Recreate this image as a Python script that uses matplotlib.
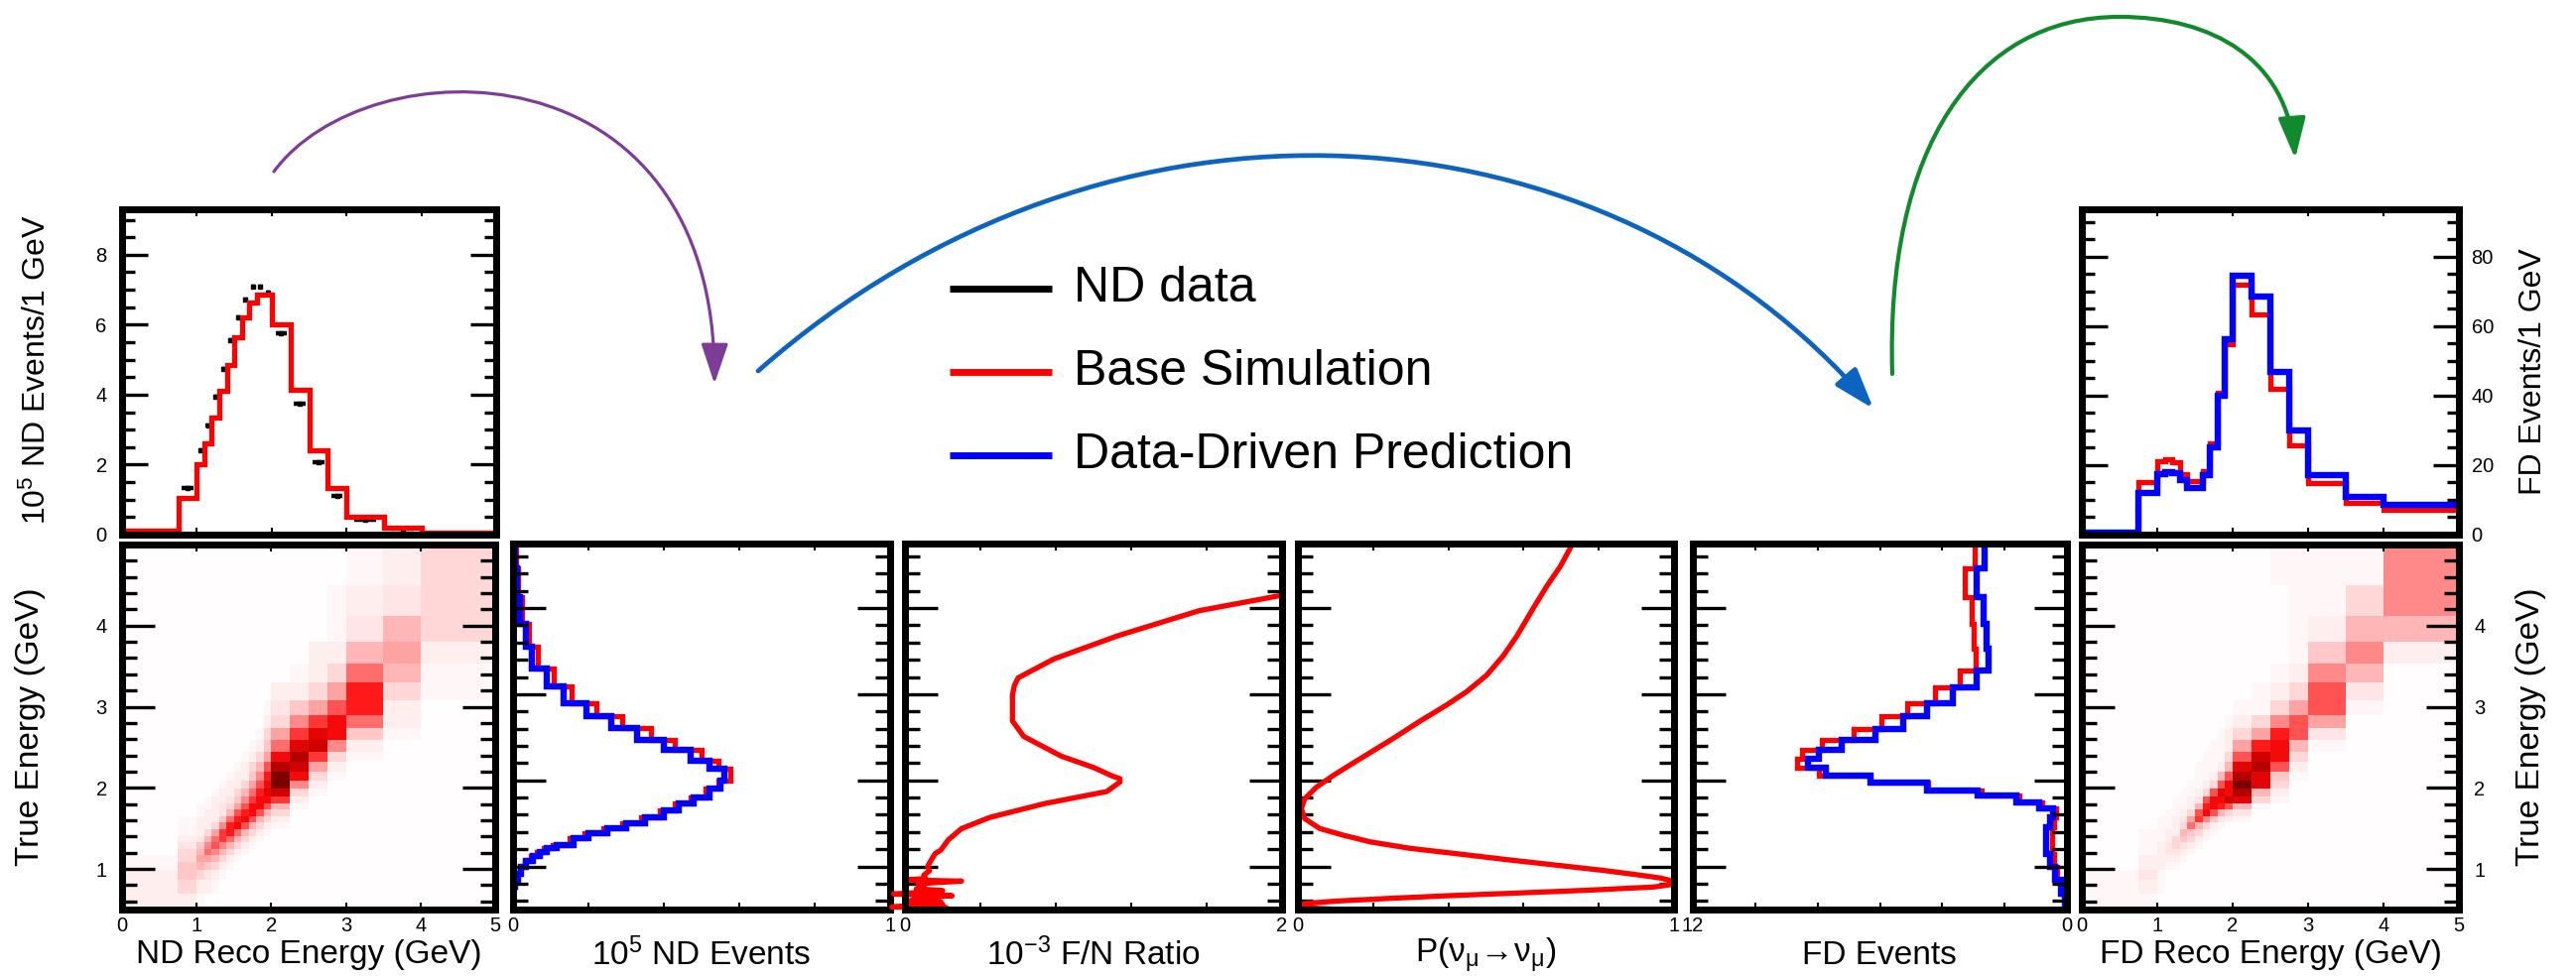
import numpy as np
import matplotlib
matplotlib.use('Agg')
import matplotlib.pyplot as plt
from matplotlib.colors import LinearSegmentedColormap
from matplotlib.patches import FancyArrowPatch
from matplotlib.path import Path
from matplotlib.ticker import MultipleLocator, FixedLocator

TICK_FS = 14.5
LABEL_FS = 24

plt.rcParams['font.family'] = ['Liberation Sans', 'DejaVu Sans']
plt.rcParams['mathtext.fontset'] = 'custom'
plt.rcParams['mathtext.rm'] = 'Liberation Sans'
plt.rcParams['mathtext.it'] = 'Liberation Sans:italic'
plt.rcParams['mathtext.bf'] = 'Liberation Sans:bold'
plt.rcParams['xtick.labelsize'] = TICK_FS
plt.rcParams['ytick.labelsize'] = TICK_FS

# ========================= DATA ============================================

# reconstructed-energy binning (GeV)
RECO_EDGES = [0, 0.75, 1.0, 1.1, 1.2, 1.3, 1.4, 1.5, 1.6, 1.7, 1.8, 1.9, 2.0,
              2.25, 2.5, 2.75, 3.0, 3.5, 4.0, 5.0]

# ND spectra, 10^5 events / 1 GeV
ND_DATA = [0.02, 1.34, 2.42, 3.11, 3.93, 4.74, 5.56, 6.21, 6.72, 7.09, 7.10,
           6.92, 5.76, 3.75, 2.08, 1.10, 0.42, 0.17, 0.04]
ND_MC = [0.10, 1.04, 2.00, 2.60, 3.35, 4.10, 4.86, 5.65, 6.21, 6.64, 6.87,
         6.87, 6.00, 4.15, 2.41, 1.32, 0.52, 0.19, 0.05]

# FD spectra, events / 1 GeV
FD_MC = [0.3, 15.2, 21.2, 21.6, 20.8, 17.4, 15.4, 15.5, 18.4, 26.4, 40.8,
         54.8, 72.1, 63.3, 41.9, 25.7, 14.8, 9.0, 7.1]
FD_PRED = [0.5, 11.9, 17.5, 18.0, 17.8, 15.7, 13.3, 13.5, 17.1, 25.2, 40.0,
           56.2, 74.5, 68.6, 46.9, 30.0, 17.1, 10.8, 8.6]

# true-energy spectra of the middle panels
ND_TRUE_EDGES = [0.5, 0.77, 0.85, 0.92, 1.0, 1.06, 1.12, 1.17, 1.21, 1.25,
                 1.326, 1.383, 1.44, 1.498, 1.575, 1.651, 1.728, 1.805, 1.90,
                 1.996, 2.13, 2.226, 2.36, 2.475, 2.609, 2.743, 2.897, 3.088,
                 3.30, 3.548, 3.816, 4.123, 4.467, 4.75]
ND_TRUE_PRED = [0.001, 0.005, 0.013, 0.022, 0.035, 0.053, 0.071, 0.089, 0.115,
                0.16, 0.20, 0.25, 0.30, 0.35, 0.40, 0.44, 0.48, 0.52, 0.55,
                0.56, 0.52, 0.47, 0.40, 0.33, 0.26, 0.195, 0.133, 0.089,
                0.051, 0.033, 0.018, 0.010, 0.004]
ND_TRUE_MC = [0.001, 0.004, 0.011, 0.019, 0.031, 0.047, 0.064, 0.081, 0.106,
              0.15, 0.19, 0.24, 0.29, 0.34, 0.39, 0.43, 0.47, 0.51, 0.545,
              0.575, 0.545, 0.50, 0.43, 0.365, 0.29, 0.222, 0.155, 0.107,
              0.065, 0.042, 0.024, 0.014, 0.008]

FD_TRUE_EDGES = [0.5, 0.69, 0.85, 1.0, 1.15, 1.31, 1.46, 1.575, 1.67, 1.747,
                 1.824, 1.881, 1.977, 2.054, 2.15, 2.245, 2.352, 2.475, 2.60,
                 2.743, 2.897, 3.077, 3.28, 3.529, 3.816, 4.123, 4.467, 4.75]
FD_TRUE_PRED = [0.05, 0.20, 0.38, 0.55, 0.66, 0.66, 0.55, 0.46, 0.88, 1.63,
                2.85, 4.50, 6.31, 7.74, 8.30, 7.96, 7.21, 6.15, 5.24, 4.50,
                3.65, 2.90, 2.51, 2.59, 2.66, 2.90, 2.64]
FD_TRUE_MC = [0.04, 0.18, 0.33, 0.42, 0.48, 0.48, 0.42, 0.35, 0.78, 1.52,
              2.74, 4.45, 6.31, 7.96, 8.65, 8.49, 7.85, 6.84, 5.94, 5.14,
              4.23, 3.44, 2.94, 2.98, 3.04, 3.28, 2.96]

# far/near ratio (10^-3) vs true energy
FN_ENERGY = [0.50, 0.51, 0.52, 0.53, 0.545, 0.56, 0.575, 0.59, 0.605, 0.62,
             0.64, 0.66, 0.68, 0.70, 0.72, 0.74, 0.77, 0.80, 0.83, 0.845,
             0.86, 0.90, 0.95, 1.00, 1.06, 1.15, 1.19, 1.31, 1.44, 1.57,
             1.73, 1.87, 1.98, 2.02, 2.05, 2.15, 2.28, 2.51, 2.69, 2.99,
             3.10, 3.19, 3.41, 3.68, 3.97, 4.15]
FN_RATIO = [0.00, 0.05, 0.22, -0.07, 0.03, 0.20, 0.02, 0.19, 0.03, 0.12,
            0.05, 0.25, -0.06, 0.08, 0.20, 0.06, 0.10, 0.07, 0.30, 0.00,
            0.11, 0.10, 0.13, 0.12, 0.135, 0.16, 0.19, 0.23, 0.30, 0.45,
            0.74, 1.07, 1.14, 1.14, 1.10, 1.00, 0.83, 0.63, 0.57, 0.57,
            0.58, 0.60, 0.79, 1.13, 1.56, 2.00]

# numu survival probability vs true energy
P_ENERGY = [4.736, 4.487, 4.257, 4.008, 3.682, 3.452, 3.222, 3.031, 2.877,
            2.686, 2.494, 2.322, 2.188, 2.054, 1.920, 1.786, 1.670, 1.556,
            1.441, 1.364, 1.287, 1.211, 1.153, 1.084, 1.019, 0.954, 0.904,
            0.866, 0.828, 0.789, 0.762, 0.724, 0.693, 0.663, 0.628, 0.598,
            0.571, 0.548, 0.521, 0.502, 0.490]
P_SURV = [0.729, 0.698, 0.662, 0.627, 0.583, 0.547, 0.502, 0.449, 0.396,
          0.324, 0.256, 0.192, 0.142, 0.093, 0.049, 0.018, 0.009, 0.018,
          0.058, 0.120, 0.191, 0.298, 0.413, 0.547, 0.680, 0.813, 0.902,
          0.964, 1.000, 0.991, 0.947, 0.769, 0.591, 0.413, 0.236, 0.102,
          0.022, 0.000, 0.022, 0.102, 0.209]

# true-energy binning of the migration matrices (GeV)
TRUE_EDGES = [0.5, 0.7, 0.87, 0.99, 1.09, 1.17, 1.25, 1.33, 1.41, 1.49, 1.57,
              1.65, 1.73, 1.81, 1.89, 1.99, 2.09, 2.2, 2.32, 2.44, 2.59, 2.74,
              2.9, 3.08, 3.3, 3.53, 3.8, 4.12, 4.5, 5.0]

# ND true vs reco occupancy (0-9 scale), rows from highest true energy down
ND_MATRIX = [
    [0, 0, 0, 0, 0, 0, 0, 0, 0, 0, 0, 0, 0, 0, 0, 0, 0.5, 1, 2],
    [0, 0, 0, 0, 0, 0, 0, 0, 0, 0, 0, 0, 0, 0, 0, 0.5, 1, 1.5, 2],
    [0, 0, 0, 0, 0, 0, 0, 0, 0, 0, 0, 0, 0, 0, 0, 0.5, 1.5, 3, 2],
    [0, 0, 0, 0, 0, 0, 0, 0, 0, 0, 0, 0, 0, 0, 1, 1, 3, 3.5, 1],
    [0, 0, 0, 0, 0, 0, 0, 0, 0, 0, 0, 0, 0, 0.5, 1, 2, 4.5, 3, 0.5],
    [0, 0, 0, 0, 0, 0, 0, 0, 0, 0, 0, 0, 1, 1, 2, 3.5, 6, 2, 0.5],
    [0, 0, 0, 0, 0, 0, 0, 0, 0, 0, 0, 0.5, 1.5, 2.5, 3.5, 5, 6, 1, 0],
    [0, 0, 0, 0, 0, 0, 0, 0, 0, 0, 0, 1, 2, 4, 5.5, 6.5, 4.5, 1, 0],
    [0, 0, 0, 0, 0, 0, 0, 0, 0, 0, 0.5, 2, 3.5, 5.5, 7, 6.5, 2.5, 0.5, 0],
    [0, 0, 0, 0, 0, 0, 0, 0, 0, 0.5, 1, 2.5, 4.5, 7, 7.5, 4, 1, 0, 0],
    [0, 0, 0, 0, 0, 0, 0, 0, 0.5, 1, 2, 3.5, 6.5, 8, 5.5, 2, 0.5, 0, 0],
    [0, 0, 0, 0, 0, 0, 0, 0.5, 1, 2, 3, 5, 8, 7.5, 3.5, 1, 0, 0, 0],
    [0, 0, 0, 0, 0, 0, 0.5, 1, 1, 2.5, 4, 6, 9, 6.5, 2, 0.5, 0, 0, 0],
    [0, 0, 0, 0, 0, 0.5, 1, 1, 2, 3.5, 5, 6.5, 9, 4, 1, 0, 0, 0, 0],
    [0, 0, 0, 0, 0.5, 1, 1, 2, 3, 4.5, 6, 7, 7.5, 2, 0.5, 0, 0, 0, 0],
    [0, 0, 0, 0.5, 1, 1, 1.5, 2.5, 4, 5.5, 6.5, 6.5, 5.5, 1, 0, 0, 0, 0, 0],
    [0, 0, 0.5, 0.5, 1, 1.5, 2, 3.5, 5, 6.5, 6.5, 5, 3, 0.5, 0, 0, 0, 0, 0],
    [0, 0, 0.5, 1, 1, 1.5, 3, 5, 6, 6.5, 5, 3, 2, 0, 0, 0, 0, 0, 0],
    [0, 0.5, 1, 1, 1, 2.5, 4.5, 6, 6.5, 5, 3, 2, 1, 0, 0, 0, 0, 0, 0],
    [0, 0.5, 1, 1, 2, 4, 6, 6.5, 5, 3, 2, 1, 0.5, 0, 0, 0, 0, 0, 0],
    [0, 0.5, 1, 2, 3.5, 5.5, 6, 4.5, 3, 2, 1, 0.5, 0, 0, 0, 0, 0, 0, 0],
    [0, 1, 1.5, 3, 4.5, 5.5, 4.5, 3, 2, 1, 0.5, 0, 0, 0, 0, 0, 0, 0, 0],
    [0, 1.5, 2.5, 4, 5, 4, 3, 2, 1, 0.5, 0, 0, 0, 0, 0, 0, 0, 0, 0],
    [0, 2, 3, 4.5, 4, 3, 2, 1, 0.5, 0, 0, 0, 0, 0, 0, 0, 0, 0, 0],
    [0.5, 2, 3.5, 3.5, 3, 2, 1, 0.5, 0, 0, 0, 0, 0, 0, 0, 0, 0, 0, 0],
    [0.5, 2.5, 3, 2.5, 2, 1, 0.5, 0, 0, 0, 0, 0, 0, 0, 0, 0, 0, 0, 0],
    [1, 2.5, 2, 1.5, 1, 0.5, 0, 0, 0, 0, 0, 0, 0, 0, 0, 0, 0, 0, 0],
    [1, 2, 1, 1, 0.5, 0, 0, 0, 0, 0, 0, 0, 0, 0, 0, 0, 0, 0, 0],
    [1, 1, 0.5, 0, 0, 0, 0, 0, 0, 0, 0, 0, 0, 0, 0, 0, 0, 0, 0],
]

# FD true vs reco occupancy (0-9 scale), rows from highest true energy down
FD_MATRIX = [
    [0, 0, 0, 0, 0, 0, 0, 0, 0, 0, 0, 0, 0, 0, 0.5, 0.5, 0.5, 0.5, 4],
    [0, 0, 0, 0, 0, 0, 0, 0, 0, 0, 0, 0, 0, 0, 0, 0.5, 0.5, 2, 4],
    [0, 0, 0, 0, 0, 0, 0, 0, 0, 0, 0, 0, 0, 0, 0, 0.5, 1, 3, 3],
    [0, 0, 0, 0, 0, 0, 0, 0, 0, 0, 0, 0, 0, 0, 0, 0.5, 2.5, 4, 1],
    [0, 0, 0, 0, 0, 0, 0, 0, 0, 0, 0, 0, 0, 0, 0.5, 1, 4, 3, 0],
    [0, 0, 0, 0, 0, 0, 0, 0, 0, 0, 0, 0, 0, 0.5, 1, 2, 5, 1.5, 0],
    [0, 0, 0, 0, 0, 0, 0, 0, 0, 0, 0, 0, 0.5, 0.5, 2, 3.5, 5, 0.5, 0],
    [0, 0, 0, 0, 0, 0, 0, 0, 0, 0, 0, 0.5, 1, 2, 4, 5, 3.5, 0, 0],
    [0, 0, 0, 0, 0, 0, 0, 0, 0, 0, 0.5, 1, 2, 3.5, 6, 5, 1.5, 0, 0],
    [0, 0, 0, 0, 0, 0, 0, 0, 0, 0.5, 0.5, 1, 3.5, 6, 6.5, 3, 0.5, 0, 0],
    [0, 0, 0, 0, 0, 0, 0, 0, 0.5, 0.5, 0.5, 2, 5, 7.5, 6.5, 2, 0, 0, 0],
    [0, 0, 0, 0, 0, 0, 0, 0.5, 0.5, 0.5, 1, 3, 7, 8, 5, 1, 0, 0, 0],
    [0, 0, 0, 0, 0, 0, 0, 0.5, 0.5, 1, 3, 5, 8, 7, 2.5, 0.5, 0, 0, 0],
    [0, 0, 0, 0, 0, 0, 0.5, 0.5, 1, 2, 5, 6.5, 9, 7, 2, 0, 0, 0, 0],
    [0, 0, 0, 0, 0, 0.5, 0.5, 1, 2, 5, 7, 6.5, 8, 3, 1, 0, 0, 0, 0],
    [0, 0, 0, 0, 0.5, 0.5, 1, 1.5, 5, 6.5, 6.5, 7.5, 7, 2, 0.5, 0, 0, 0, 0],
    [0, 0, 0, 0, 0.5, 0.5, 1, 3, 6, 6.5, 6, 5, 3, 0.5, 0, 0, 0, 0, 0],
    [0, 0, 0, 0.5, 0.5, 1, 2, 5, 6.5, 5, 3, 2, 1.5, 0, 0, 0, 0, 0, 0],
    [0, 0, 0.5, 0.5, 1, 1.5, 3.5, 5.5, 4, 2.5, 1.5, 1, 0.5, 0, 0, 0, 0, 0, 0],
    [0, 0, 0.5, 0.5, 1, 2, 4.5, 3, 2, 1, 0.5, 0, 0, 0, 0, 0, 0, 0, 0],
    [0, 0.5, 0.5, 1, 1, 3, 2.5, 2, 1, 0.5, 0, 0, 0, 0, 0, 0, 0, 0, 0],
    [0, 0.5, 0.5, 1, 2, 2.5, 2, 1, 0.5, 0, 0, 0, 0, 0, 0, 0, 0, 0, 0],
    [0, 0.5, 1, 1.5, 2, 1.5, 1, 0.5, 0, 0, 0, 0, 0, 0, 0, 0, 0, 0, 0],
    [0, 0.5, 1, 1.5, 1.5, 1, 0.5, 0, 0, 0, 0, 0, 0, 0, 0, 0, 0, 0, 0],
    [0, 1, 1, 1, 1, 0.5, 0, 0, 0, 0, 0, 0, 0, 0, 0, 0, 0, 0, 0],
    [0, 1, 1, 0.5, 0.5, 0, 0, 0, 0, 0, 0, 0, 0, 0, 0, 0, 0, 0, 0],
    [0.5, 1.5, 0.5, 0, 0, 0, 0, 0, 0, 0, 0, 0, 0, 0, 0, 0, 0, 0, 0],
    [0.5, 1, 0.5, 0, 0, 0, 0, 0, 0, 0, 0, 0, 0, 0, 0, 0, 0, 0, 0],
    [0.5, 0.5, 0, 0, 0, 0, 0, 0, 0, 0, 0, 0, 0, 0, 0, 0, 0, 0, 0],
]

LEGEND_LABELS = ['ND data', 'Base Simulation', 'Data-Driven Prediction']
TRUE_TICKS = [1, 2, 3, 4]

# ========================= STYLE ===========================================

W, H = 2596, 984
RED, BLUE, BLACK = '#ff0000', '#0000ff', '#000000'

heat = LinearSegmentedColormap.from_list(
    'heat', [(0.0, '#ffffff'), (0.05, '#fffafa'), (0.2, '#ffe2e2'),
             (0.38, '#ffacac'), (0.55, '#ff5a5a'), (0.7, '#ff0c0c'),
             (0.85, '#cc0000'), (1.0, '#7c0000')])


def rect(l, t, r, b):
    return [l / W, 1 - b / H, (r - l) / W, (b - t) / H]


def root_frame(ax, ymajor, yminor, ylen=(24, 11)):
    for s in ax.spines.values():
        s.set_linewidth(5)
        s.set_zorder(6)
    if isinstance(ymajor, list):
        ax.yaxis.set_major_locator(FixedLocator(ymajor))
    else:
        ax.yaxis.set_major_locator(MultipleLocator(ymajor))
    ax.yaxis.set_minor_locator(MultipleLocator(yminor))
    ax.tick_params(which='both', direction='in', top=True, bottom=True,
                   left=True, right=True, width=2.4, color='black',
                   labelsize=TICK_FS)
    ax.tick_params(axis='y', which='major', length=ylen[0], pad=11)
    ax.tick_params(axis='y', which='minor', length=ylen[1])
    ax.tick_params(axis='x', which='both', length=5, width=1.5, pad=5)


fig = plt.figure(figsize=(W / 100, H / 100), dpi=100)

# ========================= ND SIDE =========================================

ax_nd = fig.add_axes(rect(123, 211, 500, 539))
centers = [(a + b) / 2 for a, b in zip(RECO_EDGES[:-1], RECO_EDGES[1:])]
halfw = [0.3 * (b - a) for a, b in zip(RECO_EDGES[:-1], RECO_EDGES[1:])]
ax_nd.hlines(ND_DATA, np.subtract(centers, halfw), np.add(centers, halfw),
             color=BLACK, lw=3.2, zorder=2)
ax_nd.plot(centers, ND_DATA, 's', color=BLACK, ms=3.5, zorder=2)
ax_nd.stairs(ND_MC, RECO_EDGES, baseline=None, color=RED, lw=3.8, zorder=3)
ax_nd.set_xlim(0, 5)
ax_nd.set_ylim(0, 9.3)
root_frame(ax_nd, 2, 0.5, ylen=(19, 9))
ax_nd.xaxis.set_major_locator(MultipleLocator(1))
ax_nd.tick_params(axis='x', labelbottom=False)

ax_ndm = fig.add_axes(rect(123, 549, 499, 917))
nd_grid = np.array(ND_MATRIX[::-1]) + 0.15
ax_ndm.pcolormesh(RECO_EDGES, TRUE_EDGES, nd_grid, cmap=heat, vmin=0, vmax=9.15)
ax_ndm.set_xlim(0, 5)
ax_ndm.set_ylim(0.5, 5)
root_frame(ax_ndm, TRUE_TICKS, 0.2)
ax_ndm.xaxis.set_major_locator(MultipleLocator(1))

# ========================= MIDDLE CHAIN ====================================

ax_ndt = fig.add_axes(rect(517, 548, 897, 917))
ax_ndt.stairs(ND_TRUE_MC, ND_TRUE_EDGES, orientation='horizontal',
              baseline=None, color=RED, lw=3.8)
ax_ndt.stairs(ND_TRUE_PRED, ND_TRUE_EDGES, orientation='horizontal',
              baseline=None, color=BLUE, lw=4.6)
ax_ndt.set_xlim(0, 1)

ax_fn = fig.add_axes(rect(912, 548, 1292, 917))
ax_fn.plot(FN_RATIO, FN_ENERGY, color=RED, lw=3.8, clip_on=False)
ax_fn.set_xlim(0, 2)

ax_p = fig.add_axes(rect(1308, 548, 1687, 917))
ax_p.plot(P_SURV, P_ENERGY, color=RED, lw=3.8, solid_joinstyle='round')
ax_p.set_xlim(0, 1)

ax_fdt = fig.add_axes(rect(1706, 548, 2083, 917))
ax_fdt.stairs(FD_TRUE_MC, FD_TRUE_EDGES, orientation='horizontal',
              baseline=None, color=RED, lw=3.8)
ax_fdt.stairs(FD_TRUE_PRED, FD_TRUE_EDGES, orientation='horizontal',
              baseline=None, color=BLUE, lw=4.6)
ax_fdt.set_xlim(12, 0)

mid_ticks = [(ax_ndt, [0, 1], 0.2), (ax_fn, [0, 2], 0.4),
             (ax_p, [0, 1], 0.2), (ax_fdt, [12, 0], 2)]
for ax, ends, minor in mid_ticks:
    ax.set_ylim(0.5, 4.75)
    root_frame(ax, TRUE_TICKS, 0.2)
    ax.set_xticks(ends, [str(v) for v in ends], fontsize=TICK_FS)
    ax.xaxis.set_minor_locator(MultipleLocator(minor))
    ax.tick_params(axis='y', labelleft=False)

# ========================= FD SIDE =========================================

ax_fd = fig.add_axes(rect(2098, 211, 2478, 539))
ax_fd.stairs(FD_MC, RECO_EDGES, baseline=None, color=RED, lw=3.8, zorder=2)
ax_fd.stairs(FD_PRED, RECO_EDGES, baseline=None, color=BLUE, lw=4.6, zorder=3)
ax_fd.set_xlim(0, 5)
ax_fd.set_ylim(0, 93.7)
root_frame(ax_fd, 20, 5, ylen=(19, 9))
ax_fd.xaxis.set_major_locator(MultipleLocator(1))
ax_fd.tick_params(axis='x', labelbottom=False)
ax_fd.tick_params(axis='y', labelleft=False, labelright=True, pad=9)

ax_fdm = fig.add_axes(rect(2098, 549, 2478, 917))
fd_grid = np.array(FD_MATRIX[::-1]) + 0.15
ax_fdm.pcolormesh(RECO_EDGES, TRUE_EDGES, fd_grid, cmap=heat, vmin=0, vmax=9.15)
ax_fdm.set_xlim(0, 5)
ax_fdm.set_ylim(0.5, 5)
root_frame(ax_fdm, TRUE_TICKS, 0.2)
ax_fdm.xaxis.set_major_locator(MultipleLocator(1))
ax_fdm.tick_params(axis='y', labelleft=False, labelright=True, pad=11)

# ========================= OVERLAY: TITLES, LEGEND, ARROWS =================

ov = fig.add_axes([0, 0, 1, 1], zorder=10)
ov.set_xlim(0, W)
ov.set_ylim(H, 0)
ov.axis('off')
ov.patch.set_alpha(0)

ov.text(37, 373, r'$10^{5}$ ND Events/1 GeV', rotation=90, ha='center',
        va='center', fontsize=LABEL_FS - 1)
ov.text(31, 733, 'True Energy (GeV)', rotation=90, ha='center', va='center',
        fontsize=LABEL_FS)
ov.text(2553, 375, 'FD Events/1 GeV', rotation=90, ha='center', va='center',
        fontsize=LABEL_FS - 1)
ov.text(2550, 733, 'True Energy (GeV)', rotation=90, ha='center', va='center',
        fontsize=LABEL_FS)

xlabels = [(311, 'ND Reco Energy (GeV)'), (706, r'$10^{5}$ ND Events'),
           (1102, r'$10^{-3}$ F/N Ratio'),
           (1497, r'P($\mathrm{\nu_{\mu}\!\rightarrow\!\nu_{\mu}}$)'),
           (1894, 'FD Events'), (2288, 'FD Reco Energy (GeV)')]
for x, s in xlabels:
    ov.text(x, 963, s, ha='center', va='center', fontsize=LABEL_FS)

for y, c, s in zip([291, 375, 459], [BLACK, RED, BLUE], LEGEND_LABELS):
    ov.plot([957, 1060], [y, y], color=c, lw=5, solid_capstyle='butt')
    ov.text(1082, y, s, ha='left', va='center', fontsize=36)


def arc(points, color, lw):
    codes = [Path.MOVETO] + [Path.CURVE4] * (len(points) - 1)
    ov.add_patch(FancyArrowPatch(path=Path(points, codes),
                                 arrowstyle='-|>,head_length=1.25,head_width=0.42',
                                 mutation_scale=20, color=color, lw=lw))


# ND -> true-energy spectrum
arc([(276, 173), (370, 45), (722, 40), (720, 387)], '#7d3c98', 2.3)
# ND prediction -> FD true energy
arc([(764, 374), (1120, 60), (1620, 100), (1888, 412)], '#0c64c0', 3.4)
# FD true -> FD reco
arc([(1907, 377), (1900, 150), (1990, 17), (2136, 17),
     (2230, 17), (2305, 60), (2313, 160)], '#118a2e', 3.0)

fig.savefig('out.png', dpi=100)
